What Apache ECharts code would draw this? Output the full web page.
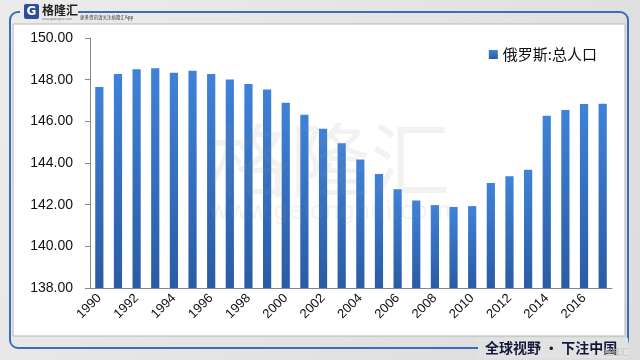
<!DOCTYPE html>
<html><head><meta charset="utf-8">
<script src="https://cdn.jsdelivr.net/npm/echarts@6/dist/echarts.min.js"></script>
<style>html,body{margin:0;padding:0;background:#e6e6e6}#c{width:640px;height:360px}</style>
</head><body><div id="c"></div>
<script>
const years = ['1990','1991','1992','1993','1994','1995','1996','1997','1998','1999','2000','2001','2002','2003','2004','2005','2006','2007','2008','2009','2010','2011','2012','2013','2014','2015','2016','2017'];
const population = [147.65,148.27,148.50,148.55,148.33,148.43,148.27,148.01,147.79,147.53,146.89,146.32,145.64,144.95,144.17,143.47,142.74,142.20,141.98,141.89,141.93,143.04,143.37,143.68,146.27,146.54,146.83,146.84];
const seriesName = '俄罗斯:总人口';
const yTicks = [138, 140, 142, 144, 146, 148, 150];

const chart = echarts.init(document.getElementById('c'));
chart.setOption({
  animation: false,
  backgroundColor: {
    type: 'linear', x: 0, y: 0, x2: 1, y2: 1,
    colorStops: [{offset: 0, color: '#ececec'}, {offset: 1, color: '#dcdcdc'}]
  },
  graphic: [
    {type: 'rect', shape: {x: 10, y: 12, width: 618, height: 336, r: 8}, style: {fill: 'none', stroke: '#3a6fb8', lineWidth: 2}, z: -10},
    {type: 'rect', shape: {x: 13, y: 24, width: 612, height: 312}, style: {fill: '#ffffff', stroke: '#b8b8b8', lineWidth: 1}, z: -9},
    {type: 'rect', shape: {x: 20, y: 2, width: 58, height: 20}, style: {fill: '#eaeaea'}, z: -8},
    {type: 'rect', shape: {x: 24, y: 4, width: 15, height: 15, r: 2}, style: {fill: '#2b4f9a'}, z: -7},
    {type: 'text', style: {x: 31.5, y: 12, text: 'G', fill: '#fff', font: 'bold 12px "DejaVu Sans"', textAlign: 'center', textVerticalAlign: 'middle'}, z: -6},
    {type: 'text', style: {x: 42, y: 10, text: '格隆汇', fill: '#222', font: 'bold 12px "Noto Sans CJK SC"', textVerticalAlign: 'middle'}, z: -6},
    {type: 'text', style: {x: 42, y: 19, text: 'www.gelonghui.com', fill: '#666', font: '3px "DejaVu Sans"', textVerticalAlign: 'middle'}, z: -6},
    {type: 'text', style: {x: 80, y: 17, text: '更多资讯请关注格隆汇App', fill: '#333', font: '4.5px "Noto Sans CJK SC"', textVerticalAlign: 'middle'}, z: -6},
    {type: 'rect', shape: {x: 478, y: 338, width: 150, height: 20}, style: {fill: '#e2e2e2'}, z: -8},
    {type: 'text', style: {x: 485, y: 348, text: '全球视野 • 下注中国', fill: '#14183a', font: 'bold 14px "Noto Sans CJK SC"', textVerticalAlign: 'middle'}, z: -6},
    {type: 'text', style: {x: 604, y: 352, text: '格隆汇', fill: '#bdbdbd', font: '8px "Noto Sans CJK SC"', textVerticalAlign: 'middle'}, z: -6},
    {type: 'text', style: {x: 330, y: 160, text: '格隆汇', fill: 'rgba(150,150,150,0.12)', font: '80px "Noto Sans CJK SC"', textAlign: 'center', textVerticalAlign: 'middle'}, z: 20},
    {type: 'text', style: {x: 330, y: 213, text: 'www.gelonghui.com', fill: 'rgba(150,150,150,0.12)', font: '24px "DejaVu Sans"', textAlign: 'center', textVerticalAlign: 'middle'}, z: 20}
  ],
  legend: {
    show: true, right: 38, top: 42, itemWidth: 9, itemHeight: 9, itemGap: 4,
    icon: 'rect', textStyle: {fontSize: 15, color: '#111', fontFamily: '"Noto Sans CJK SC"'},
    data: [seriesName]
  },
  grid: {left: 90, right: 28, top: 38, bottom: 72, containLabel: false},
  xAxis: {
    type: 'category', data: years, boundaryGap: true, z: 5,
    axisLine: {lineStyle: {color: '#888'}},
    axisTick: {interval: 1, length: 5, lineStyle: {color: '#888'}},
    axisLabel: {interval: 1, rotate: 45, color: '#111', fontSize: 13, fontFamily: '"Liberation Sans"', margin: 8}
  },
  yAxis: {
    type: 'value', min: yTicks[0], max: yTicks[yTicks.length - 1], interval: 2, z: 5,
    axisLine: {show: true, lineStyle: {color: '#888'}},
    axisTick: {show: true, length: 5, lineStyle: {color: '#888'}},
    splitLine: {show: false},
    axisLabel: {color: '#111', fontSize: 14, fontFamily: '"Liberation Sans"', margin: 17, formatter: v => v.toFixed(2)}
  },
  series: [{
    name: seriesName, type: 'bar', data: population, barWidth: '44%', z: 10,
    itemStyle: {color: {type: 'linear', x: 0, y: 0, x2: 0, y2: 1,
      colorStops: [{offset: 0, color: '#3f82d8'}, {offset: 1, color: '#2a5ca3'}]}}
  }]
});
</script></body></html>
